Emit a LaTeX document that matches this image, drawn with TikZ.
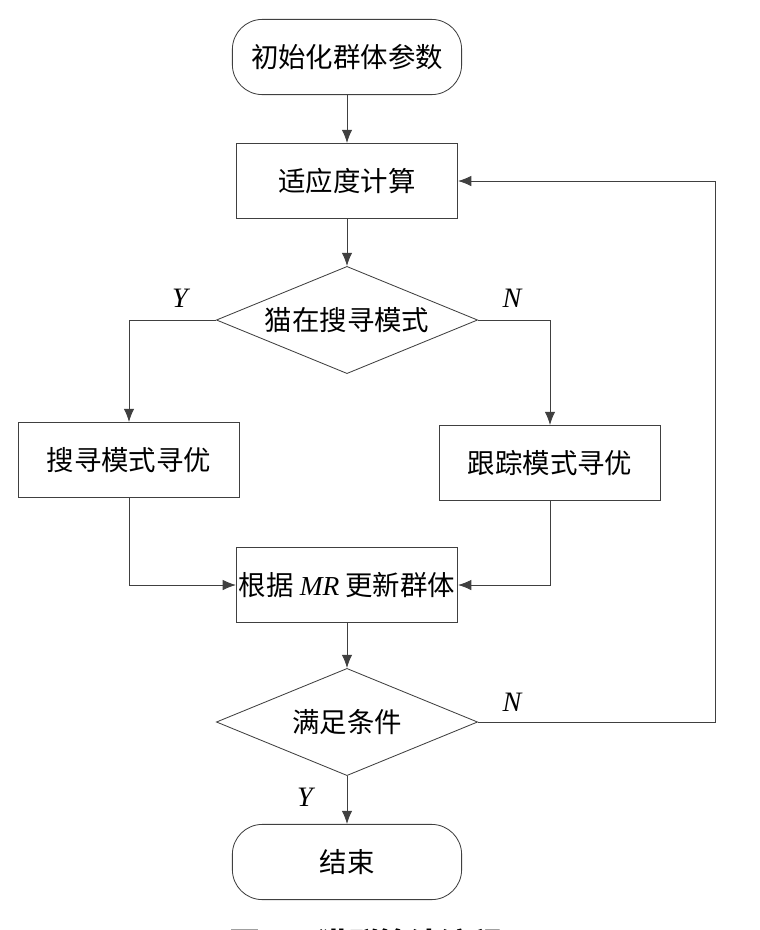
\documentclass[tikz,border=0pt]{standalone}
\usepackage{fontspec}
\setmainfont{Liberation Serif}
\newfontfamily\cjk{Noto Sans CJK SC}
\usepackage{tikz}
\usetikzlibrary{arrows,arrows.meta,calc,shapes,positioning}
\tikzset{>={Latex[length=3.3mm,width=2.6mm]}}
\tikzset{
  linie/.style={draw=black!75, line width=0.6pt},
  terminal/.style={linie, rounded corners=0.75cm, minimum width=5.73cm, minimum height=1.88cm, font=\fontsize{19.5}{22}\selectfont\cjk},
  process/.style={linie, fill=white, minimum width=5.53cm, minimum height=1.88cm, inner sep=0pt, font=\fontsize{19.5}{22}\selectfont\cjk},
  decision/.style={linie, diamond, aspect=2.44, inner sep=0pt, minimum width=6.53cm, minimum height=2.68cm, font=\fontsize{19.5}{22}\selectfont\cjk},
  branch/.style={font=\fontsize{20}{22}\selectfont\itshape}
}
\newcommand{\MRtext}{\textit{MR}}
\begin{document}
\begin{tikzpicture}[x=0.025cm, y=-0.025cm]
      \clip (0,0) rectangle (760,930);
        \node[terminal] at (347,57) (init) {初始化群体参数};
        \node[process] at (347,181) (fitness) {适应度计算};
        \node[decision] at (347,320) (mode) {猫在搜寻模式};
        \node[process] at (129,460) (seek) {搜寻模式寻优};
        \node[process] at (550,463) (trace) {跟踪模式寻优};
        \node[process] at (347,585) (update) {根据 {\rmfamily\MRtext} 更新群体};
        \node[decision] at (347,722) (cond) {满足条件};
        \node[terminal] at (347,862) (stop) {结束};
        % caption, cut at the lower edge
        \node[font=\fontsize{22}{24}\selectfont\bfseries\cjk] at (366,944) (caption) {图 1\quad 猫群算法流程};
        \node[branch] at (180,298) (modeY) {Y};
        \node[branch] at (512,298) (modeN) {N};
        \node[branch] at (512,702) (condN) {N};
        \node[branch] at (305,797) (condY) {Y};
        \coordinate (loop) at (715,722);
        \draw[linie,->] (init) -- (fitness);
        \draw[linie,->] (fitness) -- (mode);
        \draw[linie,->] (mode.west) -| (seek.north);
        \draw[linie,->] (mode.east) -| (trace.north);
        \draw[linie,->] (seek.south) |- (update.west);
        \draw[linie,->] (trace.south) |- (update.east);
        \draw[linie,->] (update) -- (cond);
        \draw[linie,->] (cond.east) -- (loop) |- (fitness.east);
        \draw[linie,->] (cond) -- (stop);
      \end{tikzpicture}
\end{document}
